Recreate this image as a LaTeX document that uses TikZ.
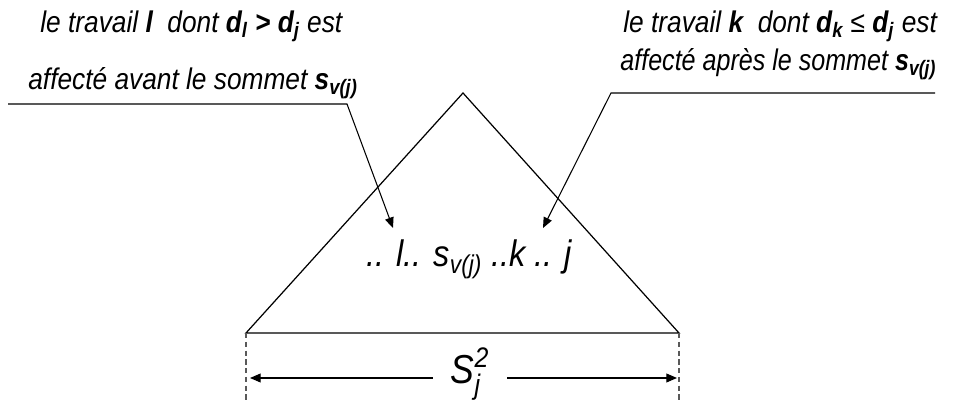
\documentclass[tikz,border=0pt]{standalone}
\usepackage{amsmath}
\usepackage{fontspec}
\setmainfont{Liberation Sans}
\newfontfamily\lblfont{Liberation Sans}[FakeStretch=0.88]
\newfontfamily\lblnarrow{Liberation Sans}[FakeStretch=0.84]
\usetikzlibrary{arrows.meta}
\newcommand{\bsub}[1]{\textsubscript{\bfseries #1}}

\begin{document}
\begin{tikzpicture}[x=0.02cm,y=-0.02cm,
      lbl/.style={font=\lblfont\fontsize{17}{20}\selectfont\itshape,anchor=base west,inner sep=0pt},
      seq/.style={font=\lblfont\fontsize{21}{24}\selectfont\itshape,anchor=base west,inner sep=0pt},
      lead/.style={line width=0.6pt,-{Triangle[length=6pt,width=5pt]}},
      guide/.style={black!65,line width=0.6pt,dash pattern=on 3pt off 2pt}]
    \useasboundingbox (0,0) rectangle (954,401);
    % triangle
    \coordinate (top) at (463,93);
    \coordinate (bl) at (246,333);
    \coordinate (br) at (679,333);
    \draw[line width=0.7pt] (bl) -- (top) -- (br) -- cycle;
    % texts
    \node[lbl] (l1) at (40,33) {le travail \textbf{l}~ dont \textbf{d}\bsub{l} \textbf{>} \textbf{d}\bsub{j} est};
    \node[lbl] (l2) at (28,90) {affecté avant le sommet \textbf{s}\bsub{v(j)}};
    \node[lbl] (r1) at (623,33) {le travail \textbf{k}~ dont \textbf{d}\bsub{k} ≤ \textbf{d}\bsub{j} est};
    \node[lbl,font=\lblnarrow\fontsize{17}{20}\selectfont\itshape] (r2) at (620,71) {affecté après le sommet \textbf{s}\bsub{v(j)}};
    \node[seq] (seq) at (366,267) {.. l.. s\textsubscript{v(j)} ..k .. j};
    % leaders
    \coordinate (la) at (8,104);
    \coordinate (lb) at (347,104);
    \coordinate (lt) at (393,228);
    \coordinate (ra) at (935,93);
    \coordinate (rb) at (611,93);
    \coordinate (rt) at (543,228);
    \draw[lead] (la) -- (lb) -- (lt);
    \draw[lead] (ra) -- (rb) -- (rt);
    % width
    \draw[guide] (bl) -- (bl |- 0,401);
    \draw[guide] (br) -- (br |- 0,401);
    \coordinate (dl) at (250,378);
    \coordinate (dr) at (677,378);
    \node[font=\lblfont\fontsize{23}{27}\selectfont,anchor=base,inner xsep=10pt] (width) at (470,384) {$\textit{S}_{\textit{j}}^{\textit{2}}$};
    \draw[lead] (width.west |- dl) -- (dl);
    \draw[lead] (width.east |- dr) -- (dr);
  \end{tikzpicture}
\end{document}
